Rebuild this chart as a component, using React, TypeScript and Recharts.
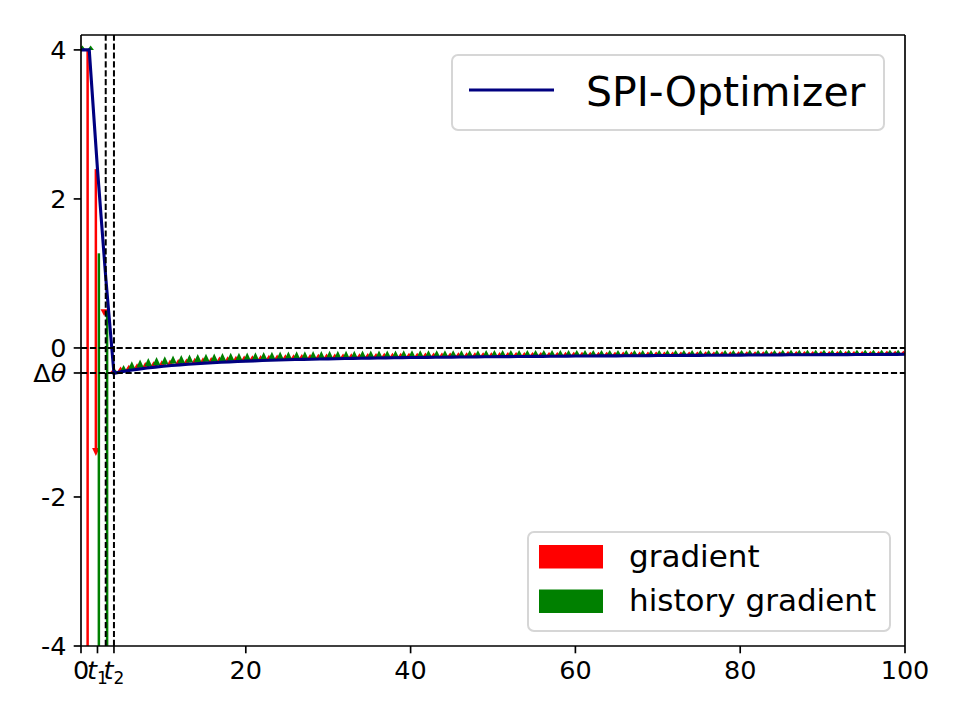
import React from 'react';
import { ComposedChart, Line, Bar, XAxis, YAxis, ReferenceLine } from 'recharts';

const FONT = '"DejaVu Sans", "Liberation Sans", sans-serif';
const TICK_FS = 25.5;

// iteration steps (x axis)
const steps = Array.from({ length: 101 }, (_, i) => i);

// SPI-Optimizer trajectory (theta at each step)
const lineVals = [
  4, 4, 2.4, 0.95, -0.34,
  -0.318, -0.3, -0.284, -0.27, -0.257,
  -0.246, -0.236, -0.227, -0.219, -0.211,
  -0.204, -0.198, -0.192, -0.187, -0.182,
  -0.177, -0.173, -0.169, -0.165, -0.162,
  -0.159, -0.156, -0.153, -0.151, -0.148,
  -0.146, -0.144, -0.142, -0.14, -0.138,
  -0.136, -0.135, -0.133, -0.132, -0.13,
  -0.129, -0.128, -0.126, -0.125, -0.124,
  -0.123, -0.122, -0.121, -0.12, -0.119,
  -0.118, -0.117, -0.116, -0.115, -0.114,
  -0.113, -0.113, -0.112, -0.111, -0.11,
  -0.109, -0.109, -0.108, -0.107, -0.106,
  -0.106, -0.105, -0.104, -0.104, -0.103,
  -0.102, -0.102, -0.101, -0.1, -0.1,
  -0.099, -0.098, -0.098, -0.097, -0.097,
  -0.096, -0.095, -0.095, -0.094, -0.094,
  -0.093, -0.092, -0.092, -0.091, -0.091,
  -0.09, -0.09, -0.089, -0.089, -0.088,
  -0.088, -0.087, -0.087, -0.086, -0.086,
  -0.085,
];

// gradient arrow (red) signed lengths
const gradLen = [
  0, -8.6, -3.85, -0.09, 0.045,
  0.07, 0.075, 0.078, 0.08, 0.08,
  0.08, 0.08, 0.079, 0.079, 0.078,
  0.078, 0.077, 0.077, 0.076, 0.076,
  0.075, 0.075, 0.074, 0.074, 0.073,
  0.073, 0.072, 0.072, 0.071, 0.071,
  0.07, 0.07, 0.069, 0.069, 0.068,
  0.068, 0.067, 0.067, 0.066, 0.066,
  0.065, 0.065, 0.064, 0.064, 0.064,
  0.063, 0.063, 0.062, 0.062, 0.062,
  0.061, 0.061, 0.06, 0.06, 0.06,
  0.059, 0.059, 0.059, 0.058, 0.058,
  0.058, 0.057, 0.057, 0.057, 0.056,
  0.056, 0.056, 0.055, 0.055, 0.055,
  0.054, 0.054, 0.054, 0.053, 0.053,
  0.053, 0.053, 0.052, 0.052, 0.052,
  0.051, 0.051, 0.051, 0.051, 0.05,
  0.05, 0.05, 0.05, 0.049, 0.049,
  0.049, 0.049, 0.048, 0.048, 0.048,
  0.048, 0.047, 0.047, 0.047, 0.047,
  0.046,
];

// history gradient arrow (green) signed lengths
const histLen = [
  0.06, 0.06, -7, -6, 0.05,
  0.09, 0.12, 0.13, 0.135, 0.135,
  0.135, 0.134, 0.133, 0.131, 0.129,
  0.127, 0.125, 0.123, 0.121, 0.119,
  0.117, 0.116, 0.115, 0.114, 0.113,
  0.112, 0.111, 0.11, 0.109, 0.108,
  0.107, 0.106, 0.105, 0.104, 0.103,
  0.102, 0.101, 0.1, 0.099, 0.098,
  0.097, 0.096, 0.095, 0.094, 0.094,
  0.093, 0.092, 0.091, 0.09, 0.09,
  0.089, 0.088, 0.087, 0.087, 0.086,
  0.085, 0.085, 0.084, 0.083, 0.083,
  0.082, 0.081, 0.081, 0.08, 0.079,
  0.079, 0.078, 0.078, 0.077, 0.076,
  0.076, 0.075, 0.075, 0.074, 0.074,
  0.073, 0.072, 0.072, 0.071, 0.071,
  0.07, 0.07, 0.069, 0.069, 0.068,
  0.068, 0.067, 0.067, 0.066, 0.066,
  0.065, 0.065, 0.064, 0.064, 0.063,
  0.063, 0.062, 0.062, 0.061, 0.061,
  0.06,
];

// arrow tails for the first steps (where they differ from the trajectory)
const earlyGradTail = [4, 4, 2.4, 0.52];
const earlyHistTail = [4, 4, 1.27, 0.5];

const deltaTheta = -0.336;
const xTicks = [0, 2, 4, 20, 40, 60, 80, 100];
const xTickLabels = ['0', 't1', 't2', '20', '40', '60', '80', '100'];
const yTicks = [-4, -2, deltaTheta, 0, 2, 4];
const yTickLabels = ['-4', '-2', 'Δθ', '0', '2', '4'];
const markerSteps = [3, 4];
const levelValues = [0, deltaTheta];

const lineSeries = { key: 'theta', name: 'SPI-Optimizer', color: '#000080' };
const arrowSeries = [
  { key: 'grad', name: 'gradient', color: '#ff0000' },
  { key: 'hist', name: 'history gradient', color: '#008000' },
];

const rows = steps.map((t, i) => {
  const y = lineVals[i];
  const gTail = i < earlyGradTail.length ? earlyGradTail[i] : y;
  const hTail = i < earlyHistTail.length ? earlyHistTail[i] : y;
  return {
    t,
    theta: y,
    grad: gradLen[i] !== 0 ? [gTail, gTail + gradLen[i]] : null,
    hist: histLen[i] !== 0 ? [hTail, hTail + histLen[i]] : null,
  };
});

const makeArrow = (key: string) => (props: any) => {
  const { x, y, width, height, payload, fill } = props;
  const v = payload ? payload[key] : null;
  if (!v || typeof y !== 'number' || typeof height !== 'number') return <g />;
  const up = v[1] > v[0];
  const top = Math.min(y, y + height);
  const bottom = Math.max(y, y + height);
  const L = bottom - top;
  const cx = x + width / 2;
  const hl = Math.min(8, L);
  const hw = L >= 8 ? 7.5 : 5.5 + L * 0.25;
  const tipY = up ? top : bottom;
  const tailY = up ? bottom : top;
  const baseY = up ? tipY + hl : tipY - hl;
  const sTop = Math.min(tailY, baseY);
  const sH = Math.abs(tailY - baseY);
  return (
    <g>
      {sH > 0.5 && <rect x={cx - 1.25} y={sTop} width={2.5} height={sH} fill={fill} />}
      <polygon points={`${cx},${tipY} ${cx - hw / 2},${baseY} ${cx + hw / 2},${baseY}`} fill={fill} />
    </g>
  );
};

const XTick = (props: any) => {
  const { x, y, payload } = props;
  const idx = xTicks.indexOf(payload.value);
  const label = idx >= 0 ? xTickLabels[idx] : String(payload.value);
  const m = /^t(\d)$/.exec(label);
  return (
    <text x={x} y={y + 18.5} textAnchor="middle" fontSize={TICK_FS} fontFamily={FONT} fill="#000">
      {m ? (
        <>
          <tspan fontStyle="italic">t</tspan>
          <tspan fontSize={17} dy={5}>{m[1]}</tspan>
        </>
      ) : (
        label
      )}
    </text>
  );
};

const YTick = (props: any) => {
  const { x, y, payload } = props;
  const idx = yTicks.indexOf(payload.value);
  const label = idx >= 0 ? yTickLabels[idx] : String(payload.value);
  if (label === 'Δθ') {
    return (
      <text x={x} y={y + 9} textAnchor="end" fontSize={TICK_FS} fontFamily={FONT} fill="#000">
        <tspan>Δ</tspan>
        <tspan fontStyle="italic">θ</tspan>
      </text>
    );
  }
  return (
    <text x={x} y={y + 9} textAnchor="end" fontSize={TICK_FS} fontFamily={FONT} fill="#000">
      {label}
    </text>
  );
};

const dash = '6.2 2.7';

export default function App() {
  return (
    <div style={{ position: 'absolute', left: 0, top: 0, width: 960, height: 720, background: '#fff' }}>
      <ComposedChart
        width={960}
        height={720}
        data={rows}
        margin={{ top: 35, right: 55, bottom: 0, left: 0 }}
        barGap={0}
      >
        <XAxis
          dataKey="t"
          type="number"
          domain={[0, 100]}
          ticks={xTicks}
          interval={0}
          tick={(p: any) => <XTick {...p} />}
          tickSize={7.3}
          tickMargin={7.3}
          height={74}
          axisLine={{ stroke: '#000', strokeWidth: 1.67 }}
          tickLine={{ stroke: '#000', strokeWidth: 1.67 }}
          allowDataOverflow
        />
        <YAxis
          type="number"
          domain={[-4, 4.2]}
          ticks={yTicks}
          interval={0}
          tick={(p: any) => <YTick {...p} />}
          tickSize={7.3}
          tickMargin={7.3}
          width={81}
          axisLine={{ stroke: '#000', strokeWidth: 1.67 }}
          tickLine={{ stroke: '#000', strokeWidth: 1.67 }}
          allowDataOverflow
        />
        {arrowSeries.map((s) => (
          <Bar
            key={s.key}
            dataKey={s.key}
            name={s.name}
            fill={s.color}
            barSize={3}
            shape={makeArrow(s.key)}
            isAnimationActive={false}
          />
        ))}
        <Line
          dataKey={lineSeries.key}
          name={lineSeries.name}
          type="linear"
          stroke={lineSeries.color}
          strokeWidth={3.1}
          dot={false}
          activeDot={false}
          isAnimationActive={false}
        />
        {levelValues.map((v) => (
          <ReferenceLine key={'h' + v} y={v} stroke="#000" strokeWidth={2} strokeDasharray={dash} />
        ))}
        {markerSteps.map((v) => (
          <ReferenceLine key={'v' + v} x={v} stroke="#000" strokeWidth={2} strokeDasharray={dash} />
        ))}
        <ReferenceLine y={4.2} stroke="#000" strokeWidth={1.67} />
        <ReferenceLine x={100} stroke="#000" strokeWidth={1.67} />
      </ComposedChart>
      <svg
        width={960}
        height={720}
        style={{ position: 'absolute', left: 0, top: 0, pointerEvents: 'none' }}
      >
        <g fontFamily={FONT}>
          <rect x={452} y={55} width={432} height={75} rx={6} fill="#fff" fillOpacity={0.8} stroke="#d6d6d6" strokeWidth={2} />
          <line x1={469} x2={554} y1={90} y2={90} stroke={lineSeries.color} strokeWidth={3.1} />
          <text x={586} y={106} fontSize={41} fill="#000">{lineSeries.name}</text>

          <rect x={528} y={532} width={362} height={99} rx={6} fill="#fff" fillOpacity={0.8} stroke="#d6d6d6" strokeWidth={2} />
          {arrowSeries.map((s, i) => (
            <g key={s.key}>
              <rect x={539} y={545 + i * 44.5} width={64} height={23.5} fill={s.color} />
              <text x={629} y={567 + i * 44} fontSize={31} fill="#000">{s.name}</text>
            </g>
          ))}
        </g>
      </svg>
    </div>
  );
}
